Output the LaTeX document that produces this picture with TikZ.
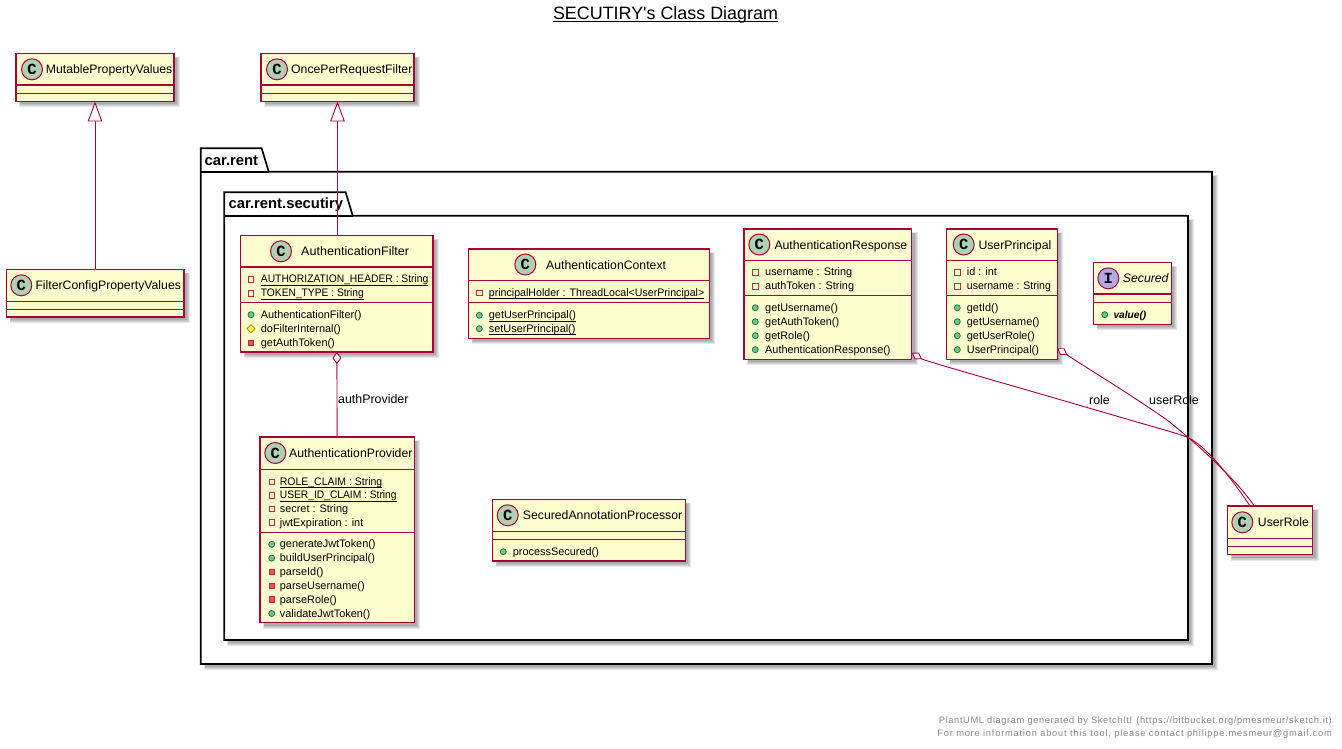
\documentclass[tikz,border=0pt]{standalone}
\usepackage{fontspec}
\setmainfont{Liberation Sans}
\newfontfamily\footfonta[LetterSpace=6.5]{Liberation Sans}
\newfontfamily\footfontb[LetterSpace=8.4]{Liberation Sans}
\newfontfamily\titlefont{Liberation Sans}
\newfontfamily\monob[BoldFont={Liberation Mono Bold}]{Liberation Mono}
\usetikzlibrary{arrows.meta,calc}
\definecolor{umlred}{HTML}{A80036}
\definecolor{umlfill}{HTML}{FEFECE}
\definecolor{spotc}{HTML}{ADD1B2}
\definecolor{spoti}{HTML}{B4A7E5}
\definecolor{footgray}{HTML}{888888}
\definecolor{privb}{HTML}{C82930}
\definecolor{privf}{HTML}{F24D5C}
\definecolor{pubb}{HTML}{038048}
\definecolor{pubf}{HTML}{84BE84}
\definecolor{protb}{HTML}{B38D22}
\definecolor{protf}{HTML}{FFFF44}
\newcounter{txtn}
\tikzset{
  boxnode/.style={draw=umlred,fill=umlfill,line width=1.4pt,inner sep=0pt,outer sep=0pt,rectangle},
  sepline/.style={draw=umlred,line width=1.4pt},
  spotnode/.style={circle,draw=umlred,line width=1pt,minimum size=21pt,inner sep=0pt,font=\monob\bfseries\fontsize{15.5}{16}\selectfont},
  classname/.style={anchor=west,inner sep=0pt,text height=9.5pt,text depth=.5pt,font=\fontsize{12.25}{14}\selectfont},
  membertext/.style={anchor=west,inner sep=0pt,text height=8pt,text depth=1pt,font=\fontsize{10.9}{13}\selectfont},
  edgelabel/.style={anchor=west,inner sep=0pt,font=\fontsize{12.4}{14}\selectfont},
  connector/.style={draw=umlred,line width=.9pt},
  pkgline/.style={draw=black,line width=1.7pt,line join=miter},
  pkgname/.style={anchor=west,inner sep=0pt,font=\bfseries\fontsize{14.8}{16}\selectfont},
  shadowlayer/.style={fill=black,opacity=.09,draw=none},
}
% shadow for a rectangle
\newcommand\softshadow[4]{%
  \foreach \k in {-1,0,1,2}{\fill[shadowlayer] ({#1+4-\k*.4},{#2+4-\k*.4}) rectangle ({#3+4+\k},{#4+4+\k});}}
% class box: id x0 y0 x1 y1 sep1 sep2
\newcommand\umlbox[7]{%
  \softshadow{#2}{#3}{#4}{#5}
  \node[boxnode,minimum width={#4-#2},minimum height={#5-#3}] (#1) at ({(#2+#4)/2},{(#3+#5)/2}) {};
  \draw[sepline] ({#2},{#6}) -- ({#4},{#6});
  \draw[sepline] ({#2},{#7}) -- ({#4},{#7});
}
\newcommand\spot[5]{\node[spotnode,fill=#4] (#1) at (#2,#3) {#5};}
\newcommand\cname[4]{\node[classname] (#1) at (#2,#3) {#4};}
\newcommand\ulx[1]{\setbox0\hbox{#1}\rlap{\rule[-3pt]{\wd0}{.95pt}}\box0}
\newcommand\hs[2]{\scalebox{#1}[1]{#2}}
% icons
\newcommand\icon[3]{%
  \ifx#1a\draw[privb,line width=.9pt] ({#2-2.7},{#3-2.7}) rectangle ({#2+2.7},{#3+2.7});\fi
  \ifx#1m\draw[privb,fill=privf,line width=.9pt] ({#2-2.7},{#3-2.7}) rectangle ({#2+2.7},{#3+2.7});\fi
  \ifx#1p\draw[pubb,fill=pubf,line width=.8pt] (#2,#3) circle (3pt);\fi
  \ifx#1d\draw[protb,fill=protf,line width=.8pt] ({#2-4},#3) -- (#2,{#3-4}) -- ({#2+4},#3) -- (#2,{#3+4}) -- cycle;\fi
}
% member: kind iconx textx y text
\newcommand\mem[5]{\stepcounter{txtn}\icon{#1}{#2}{#4}\node[membertext] (m\arabic{txtn}) at (#3,#4) {#5};}
\begin{document}
\begin{tikzpicture}[x=1pt,y=-1pt]
\useasboundingbox (0,0) rectangle (1342,749);
\fill[white] (0,0) rectangle (1342,749);
% title
\node[anchor=base,inner sep=0pt,font=\titlefont\fontsize{17.9}{20}\selectfont] (title) at (665.5,19.5) {\setbox0\hbox{SECUTIRY's Class Diagram}\rlap{\rule[-2.5pt]{\wd0}{1.1pt}}\box0};
% packages
\foreach \k in {-1,0,1,2}{\fill[shadowlayer] ({205-\k*.4},{176-\k*.4}) rectangle ({1216+\k},{668+\k});}
\filldraw[pkgline,fill=white] (200.7,664) -- (200.7,148.3) -- (261.7,148.3) -- (268.7,171.7) -- (1212,171.7) -- (1212,664) -- cycle;
\draw[pkgline] (200.7,171.7) -- (268.7,171.7);
\node[pkgname] (pkga) at (204.5,161) {car.rent};
\foreach \k in {-1,0,1,2}{\fill[shadowlayer] ({228-\k*.4},{220-\k*.4}) rectangle ({1192+\k},{644+\k});}
\filldraw[pkgline,fill=white] (224.3,640) -- (224.3,192.3) -- (345.7,192.3) -- (352.7,215.7) -- (1188,215.7) -- (1188,640) -- cycle;
\draw[pkgline] (224.3,215.7) -- (352.7,215.7);
\node[pkgname] (pkgb) at (228.5,205) {car.rent.secutiry};
% classes
\umlbox{mpv}{16}{53.7}{174}{101.5}{85.2}{93.3}
\spot{mpvs}{32}{69.3}{spotc}{C}\cname{mpvn}{45.7}{69.3}{MutablePropertyValues}
\umlbox{orf}{261}{53.7}{414}{101.5}{85.2}{93.3}
\spot{orfs}{277}{69.3}{spotc}{C}\cname{orfn}{291}{69.3}{OncePerRequestFilter}
\umlbox{fcpv}{6.3}{269.3}{184}{317}{301.3}{309.3}
\spot{fcpvs}{21.3}{285.3}{spotc}{C}\cname{fcpvn}{35.3}{285.3}{FilterConfigPropertyValues}
\umlbox{af}{240.7}{235.7}{433}{352}{267}{302.7}
\spot{afs}{281}{251.3}{spotc}{C}\cname{afn}{301}{251.3}{\hs{1.03}{AuthenticationFilter}}
\mem{a}{251}{260.7}{279.3}{\ulx{\hs{.945}{AUTHORIZATION\_HEADER : String}}}
\mem{a}{251}{260.7}{293.3}{\ulx{\hs{.94}{TOKEN\_TYPE : String}}}
\mem{p}{251}{260.7}{314.7}{AuthenticationFilter()}
\mem{d}{251}{260.7}{328.7}{doFilterInternal()}
\mem{m}{251}{260.7}{342.7}{getAuthToken()}
\umlbox{ap}{260}{437}{414.3}{622.7}{469.3}{532.3}
\spot{aps}{275.3}{453}{spotc}{C}\cname{apn}{289}{453}{AuthenticationProvider}
\mem{a}{271.7}{279.7}{481.7}{\ulx{\hs{.96}{ROLE\_CLAIM : String}}}
\mem{a}{271.7}{279.7}{495.3}{\ulx{\hs{.94}{USER\_ID\_CLAIM : String}}}
\mem{a}{271.7}{279.7}{508.9}{secret : String}
\mem{a}{271.7}{279.7}{522.5}{jwtExpiration : int}
\mem{p}{271.7}{279.7}{544.3}{generateJwtToken()}
\mem{p}{271.7}{279.7}{558.1}{buildUserPrincipal()}
\mem{m}{271.7}{279.7}{572}{parseId()}
\mem{m}{271.7}{279.7}{585.9}{parseUsername()}
\mem{m}{271.7}{279.7}{599.6}{parseRole()}
\mem{p}{271.7}{279.7}{613.5}{validateJwtToken()}
\umlbox{ac}{468.3}{249}{709.3}{338.3}{280.7}{302.3}
\spot{acs}{525.3}{264.5}{spotc}{C}\cname{acn}{546}{264.5}{AuthenticationContext}
\mem{a}{479.3}{488.7}{292.7}{\ulx{\hs{.975}{principalHolder : ThreadLocal<UserPrincipal>}}}
\mem{p}{479.3}{488.7}{315.3}{\ulx{getUserPrincipal()}}
\mem{p}{479.3}{488.7}{328.7}{\ulx{setUserPrincipal()}}
\umlbox{ar}{744}{229}{911.7}{359.3}{260.7}{295.7}
\spot{ars}{759.3}{244.5}{spotc}{C}\cname{arn}{774.3}{244.5}{AuthenticationResponse}
\mem{a}{755.3}{765}{272.3}{username : String}
\mem{a}{755.3}{765}{286.3}{authToken : String}
\mem{p}{755.3}{765}{307.8}{getUsername()}
\mem{p}{755.3}{765}{321.7}{getAuthToken()}
\mem{p}{755.3}{765}{335.7}{getRole()}
\mem{p}{755.3}{765}{349.7}{AuthenticationResponse()}
\umlbox{up}{946.3}{229}{1057.3}{359.3}{260.7}{295.7}
\spot{ups}{963.7}{244.5}{spotc}{C}\cname{upn}{978.3}{244.5}{UserPrincipal}
\mem{a}{957.3}{966.7}{272.3}{id : int}
\mem{a}{957.3}{966.7}{286.3}{\hs{.965}{username : String}}
\mem{p}{957.3}{966.7}{307.8}{getId()}
\mem{p}{957.3}{966.7}{321.7}{getUsername()}
\mem{p}{957.3}{966.7}{335.7}{getUserRole()}
\mem{p}{957.3}{966.7}{349.7}{UserPrincipal()}
\umlbox{sec}{1093.3}{262.7}{1171.3}{324.3}{294}{302.3}
\spot{secs}{1108.3}{278.3}{spoti}{I}\cname{secn}{1122.7}{278.3}{\itshape Secured}
\mem{p}{1104.7}{1113.3}{314.7}{\itshape\bfseries\fontsize{10.2}{12}\selectfont value()}
\umlbox{sap}{492.3}{499.3}{685.3}{561}{531.3}{539.7}
\spot{saps}{507.7}{515.3}{spotc}{C}\cname{sapn}{522.7}{515.3}{SecuredAnnotationProcessor}
\mem{p}{503.3}{512.7}{551.7}{processSecured()}
\umlbox{ur}{1227.3}{506}{1312.7}{554.7}{538.3}{546.7}
\spot{urs}{1242.3}{522.3}{spotc}{C}\cname{urn}{1257.7}{522.3}{UserRole}
% connectors
\draw[connector,{Triangle[open,fill=white,length=20pt,width=14.5pt]}-] (mpv.south) -- (mpv.south |- fcpv.north);
\draw[connector,{Triangle[open,fill=white,length=20pt,width=14.5pt]}-] (orf.south) -- (orf.south |- af.north);
\draw[connector,{Diamond[open,fill=white,length=12pt,width=9pt]}-] (af.south) -- (ap.north);
\draw[connector,{Diamond[open,fill=white,length=12pt,width=8pt]}-] ([yshift=6.5pt]ar.south east) .. controls (925,361) and (1000,382) .. (1130,420) .. controls (1150,426) and (1170,431) .. (1187,437) .. controls (1205,445) and (1230,476) .. ([xshift=-20pt]ur.north);
\draw[connector,{Diamond[open,fill=white,length=12pt,width=8pt]}-] ([yshift=11pt]up.south east) .. controls (1085,367) and (1130,394) .. (1167,420) .. controls (1195,442) and (1235,478) .. ([xshift=-15.7pt]ur.north);
\node[edgelabel] (l1) at (338,399.5) {authProvider};
\node[edgelabel] (l2) at (1089,400) {role};
\node[edgelabel] (l3) at (1149,400) {userRole};
% footer
\node[anchor=east,inner sep=0pt,text=footgray,font=\footfonta\fontsize{9.3}{11}\selectfont] (f1) at (1332,721.5) {PlantUML diagram generated by SketchIt! (https://bitbucket.org/pmesmeur/sketch.it)};
\node[anchor=east,inner sep=0pt,text=footgray,font=\footfontb\fontsize{9.3}{11}\selectfont] (f2) at (1332,734) {For more information about this tool, please contact philippe.mesmeur@gmail.com};
\end{tikzpicture}
\end{document}
